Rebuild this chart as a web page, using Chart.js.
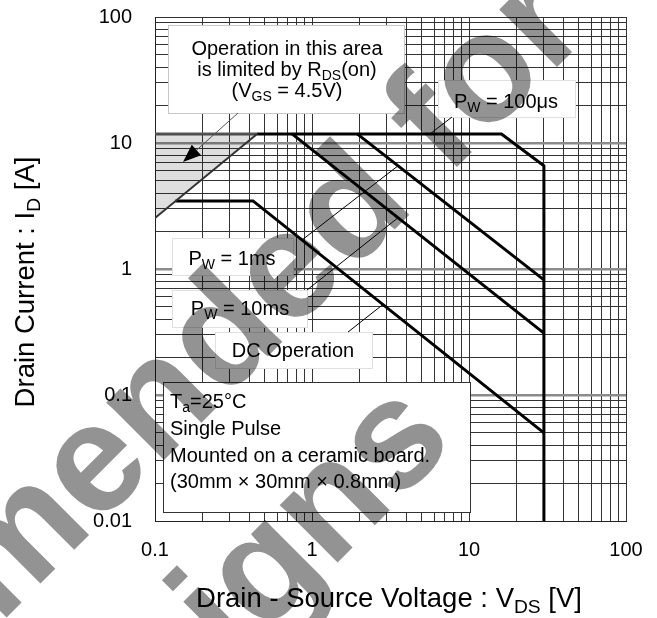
<!DOCTYPE html>
<html>
<head>
<meta charset="utf-8">
<script src="https://cdn.jsdelivr.net/npm/chart.js@4.4.1/dist/chart.umd.min.js"></script>
<style>
    html, body { margin: 0; padding: 0; background: #fff; }
    canvas { display: block; }
</style>
</head>
<body>
<canvas id="soa" width="657" height="618"></canvas>
<script>
"use strict";

// axis decades (labelled ticks) and minor steps between them
const xDecades = [0.1, 1, 10, 100];
const yDecades = [0.01, 0.1, 1, 10, 100];
const minorSteps = [2, 3, 4, 5, 6, 7, 8, 9];

// R_DS(on) limit line
const rdsV = [0.1, 0.447];
const rdsI = [2.54, 11.8];
// pulse current limit left of the R_DS(on) line
const peakV = [0.1, 0.447];
const peakI = [11.8, 11.8];
// PW = 100us
const pw100usV = [0.447, 16.1, 30, 30];
const pw100usI = [11.8, 11.8, 6.6, 0.01];
// PW = 1ms
const pw1msV = [1.94, 30];
const pw1msI = [11.8, 0.82];
// PW = 10ms
const pw10msV = [0.746, 30];
const pw10msI = [11.8, 0.31];
// DC operation
const dcV = [0.135, 0.421, 30];
const dcI = [3.47, 3.47, 0.05];

const FONT = '"Liberation Sans", Arial, sans-serif';

const toPoints = (vs, is) => vs.map((v, k) => ({ x: v, y: is[k] }));

const buildTicks = (decades) => {
    const ticks = [];
    decades.forEach((d, k) => {
        ticks.push(d);
        if (k < decades.length - 1) {
            minorSteps.forEach((m) => ticks.push(d * m));
        }
    });
    return ticks;
};

const isDecade = (v) => Math.abs(Math.log10(v) - Math.round(Math.log10(v))) < 1e-6;
const isInnerDecade = (v) => isDecade(v) && v > 0.011 && v < 99;

// point on a polyline, interpolated in log-log space
const onLine = (vs, is, v) => {
    for (let k = 0; k < vs.length - 1; k++) {
        if (v >= vs[k] && v <= vs[k + 1] && vs[k + 1] !== vs[k]) {
            const t = (Math.log10(v) - Math.log10(vs[k])) / (Math.log10(vs[k + 1]) - Math.log10(vs[k]));
            return { x: v, y: Math.pow(10, Math.log10(is[k]) + t * (Math.log10(is[k + 1]) - Math.log10(is[k]))) };
        }
    }
    return { x: v, y: is[0] };
};

// "P_{W} = 1ms" -> parts with subscripts
const rich = (str) => {
    const parts = [];
    const re = /_\{([^}]*)\}/g;
    let last = 0;
    let m;
    while ((m = re.exec(str)) !== null) {
        if (m.index > last) parts.push({ t: str.slice(last, m.index) });
        parts.push({ t: m[1], sub: true });
        last = re.lastIndex;
    }
    if (last < str.length) parts.push({ t: str.slice(last) });
    return parts;
};

const drawRich = (ctx, str, x, y, size, align) => {
    const parts = rich(str);
    const subSize = size * 0.7;
    let w = 0;
    parts.forEach((p) => {
        ctx.font = `${p.sub ? subSize : size}px ${FONT}`;
        w += ctx.measureText(p.t).width;
    });
    let cx = align === "center" ? x - w / 2 : align === "right" ? x - w : x;
    ctx.textAlign = "left";
    ctx.textBaseline = "alphabetic";
    ctx.fillStyle = "#000";
    parts.forEach((p) => {
        ctx.font = `${p.sub ? subSize : size}px ${FONT}`;
        ctx.fillText(p.t, cx, y + (p.sub ? size * 0.22 : 0));
        cx += ctx.measureText(p.t).width;
    });
};

const drawBox = (ctx, x1, y1, x2, y2, stroke) => {
    ctx.fillStyle = "#fff";
    ctx.fillRect(x1, y1, x2 - x1, y2 - y1);
    ctx.strokeStyle = stroke;
    ctx.lineWidth = 1;
    ctx.strokeRect(x1 + 0.5, y1 + 0.5, x2 - x1, y2 - y1);
};

const leader = (chart, x0, y0, pt) => {
    const ctx = chart.ctx;
    const x1 = chart.scales.x.getPixelForValue(pt.x);
    const y1 = chart.scales.y.getPixelForValue(pt.y);
    ctx.strokeStyle = "#000";
    ctx.lineWidth = 1;
    ctx.beginPath();
    ctx.moveTo(x0, y0);
    ctx.lineTo(x1, y1);
    ctx.stroke();
};

const watermarkLine = (ctx, text, x, y) => {
    ctx.save();
    ctx.globalCompositeOperation = "multiply";
    ctx.fillStyle = "#939393";
    ctx.font = `bold 154px ${FONT}`;
    ctx.textAlign = "right";
    ctx.textBaseline = "alphabetic";
    ctx.translate(x, y);
    ctx.rotate(-Math.PI / 4);
    ctx.fillText(text, 0, 0);
    ctx.restore();
};

const annotate = {
    id: "annotate",
    afterDatasetsDraw(chart) {
        const ctx = chart.ctx;
        ctx.save();

        // R_DS(on) note with arrow
        drawBox(ctx, 168, 25, 404, 113, "#c8c8c8");
        drawRich(ctx, "Operation in this area", 287, 55, 20, "center");
        drawRich(ctx, "is limited by R_{DS}(on)", 287, 76, 20, "center");
        drawRich(ctx, "(V_{GS} = 4.5V)", 287, 97, 20, "center");
        ctx.strokeStyle = "#555";
        ctx.lineWidth = 1;
        ctx.beginPath();
        ctx.moveTo(238, 113);
        ctx.lineTo(190, 156);
        ctx.stroke();
        const ang = Math.atan2(162 - 113, 183 - 238);
        ctx.fillStyle = "#000";
        ctx.beginPath();
        ctx.moveTo(183, 162);
        ctx.lineTo(183 - 18 * Math.cos(ang) - 7 * Math.sin(ang), 162 - 18 * Math.sin(ang) + 7 * Math.cos(ang));
        ctx.lineTo(183 - 18 * Math.cos(ang) + 7 * Math.sin(ang), 162 - 18 * Math.sin(ang) - 7 * Math.cos(ang));
        ctx.closePath();
        ctx.fill();

        // pulse width labels
        drawBox(ctx, 438, 80, 575, 117, "#e0e0e0");
        drawRich(ctx, "P_{W} = 100μs", 506, 108, 20, "center");
        leader(chart, 452, 117, onLine(pw100usV, pw100usI, 5.64));

        drawBox(ctx, 172, 238, 293, 275, "#e0e0e0");
        drawRich(ctx, "P_{W} = 1ms", 232, 265, 20, "center");
        leader(chart, 302, 240, onLine(pw1msV, pw1msI, 3.53));

        drawBox(ctx, 172, 290, 307, 327, "#e0e0e0");
        drawRich(ctx, "P_{W} = 10ms", 240, 315, 20, "center");
        leader(chart, 307, 290, onLine(pw10msV, pw10msI, 3.53));

        drawBox(ctx, 215, 332, 372, 368, "#e0e0e0");
        drawRich(ctx, "DC Operation", 293, 357, 20, "center");
        leader(chart, 348, 332, onLine(dcV, dcI, 2.83));

        // conditions
        drawBox(ctx, 163, 382, 470, 512, "#333");
        drawRich(ctx, "T_{a}=25°C", 170, 408, 20, "left");
        drawRich(ctx, "Single Pulse", 170, 435, 20, "left");
        drawRich(ctx, "Mounted on a ceramic board.", 170, 462, 20, "left");
        drawRich(ctx, "(30mm × 30mm × 0.8mm)", 170, 488, 20, "left");

        ctx.restore();
    },
    afterDraw(chart) {
        const ctx = chart.ctx;
        ctx.save();

        // axis titles
        drawRich(ctx, "Drain - Source Voltage : V_{DS} [V]", 389, 607, 27.5, "center");
        ctx.translate(34, 282);
        ctx.rotate(-Math.PI / 2);
        drawRich(ctx, "Drain Current : I_{D} [A]", 0, 0, 27.5, "center");
        ctx.restore();

        // watermark
        watermarkLine(ctx, "Not recommended for", 592, 32);
        watermarkLine(ctx, "new designs", 457, 443);
    },
};

const lineSet = (data, color, width, extra) => Object.assign({
    data: data,
    borderColor: color,
    borderWidth: width,
    pointRadius: 0,
    tension: 0,
    fill: false,
}, extra || {});

const xTicks = buildTicks(xDecades);
const yTicks = buildTicks(yDecades);

const chart = new Chart(document.getElementById("soa").getContext("2d"), {
    type: "line",
    data: {
        datasets: [
            lineSet(toPoints(rdsV, rdsI), "#333", 2, { fill: 1, backgroundColor: "rgba(0,0,0,0.13)" }),
            lineSet(toPoints(peakV, peakI), "#555", 3),
            lineSet(toPoints(pw100usV, pw100usI), "#000", 3),
            lineSet(toPoints(pw1msV, pw1msI), "#000", 3),
            lineSet(toPoints(pw10msV, pw10msI), "#000", 3),
            lineSet(toPoints(dcV, dcI), "#000", 3),
        ],
    },
    options: {
        responsive: false,
        animation: false,
        devicePixelRatio: 1,
        layout: { padding: { left: 0, top: 17, right: 31, bottom: 0 } },
        plugins: {
            legend: { display: false },
            tooltip: { enabled: false },
        },
        scales: {
            x: {
                type: "logarithmic",
                min: 0.1,
                max: 100,
                afterBuildTicks: (scale) => {
                    scale.ticks = xTicks.map((v) => ({ value: v }));
                },
                afterFit: (scale) => {
                    scale.height = 97;
                    scale.paddingLeft = 0;
                    scale.paddingRight = 0;
                },
                ticks: {
                    autoSkip: false,
                    maxRotation: 0,
                    padding: 17,
                    color: "#000",
                    font: { family: FONT, size: 20 },
                    callback: (v) => (xDecades.includes(v) ? String(v) : ""),
                },
                grid: { color: "#333", lineWidth: 1, drawTicks: false },
                border: { color: "#222", width: 1 },
            },
            y: {
                type: "logarithmic",
                min: 0.01,
                max: 100,
                afterBuildTicks: (scale) => {
                    scale.ticks = yTicks.map((v) => ({ value: v }));
                },
                afterFit: (scale) => {
                    scale.width = 155;
                    scale.paddingTop = 0;
                    scale.paddingBottom = 0;
                },
                ticks: {
                    autoSkip: false,
                    padding: 23,
                    color: "#000",
                    font: { family: FONT, size: 20 },
                    callback: (v) => (yDecades.includes(v) ? String(v) : ""),
                },
                grid: {
                    drawTicks: false,
                    color: (c) => (c.tick && isInnerDecade(c.tick.value) ? "#8c8c8c" : "#333"),
                    lineWidth: (c) => (c.tick && isInnerDecade(c.tick.value) ? 2.5 : 1),
                },
                border: { color: "#222", width: 1 },
            },
        },
    },
    plugins: [annotate],
});
</script>
</body>
</html>
